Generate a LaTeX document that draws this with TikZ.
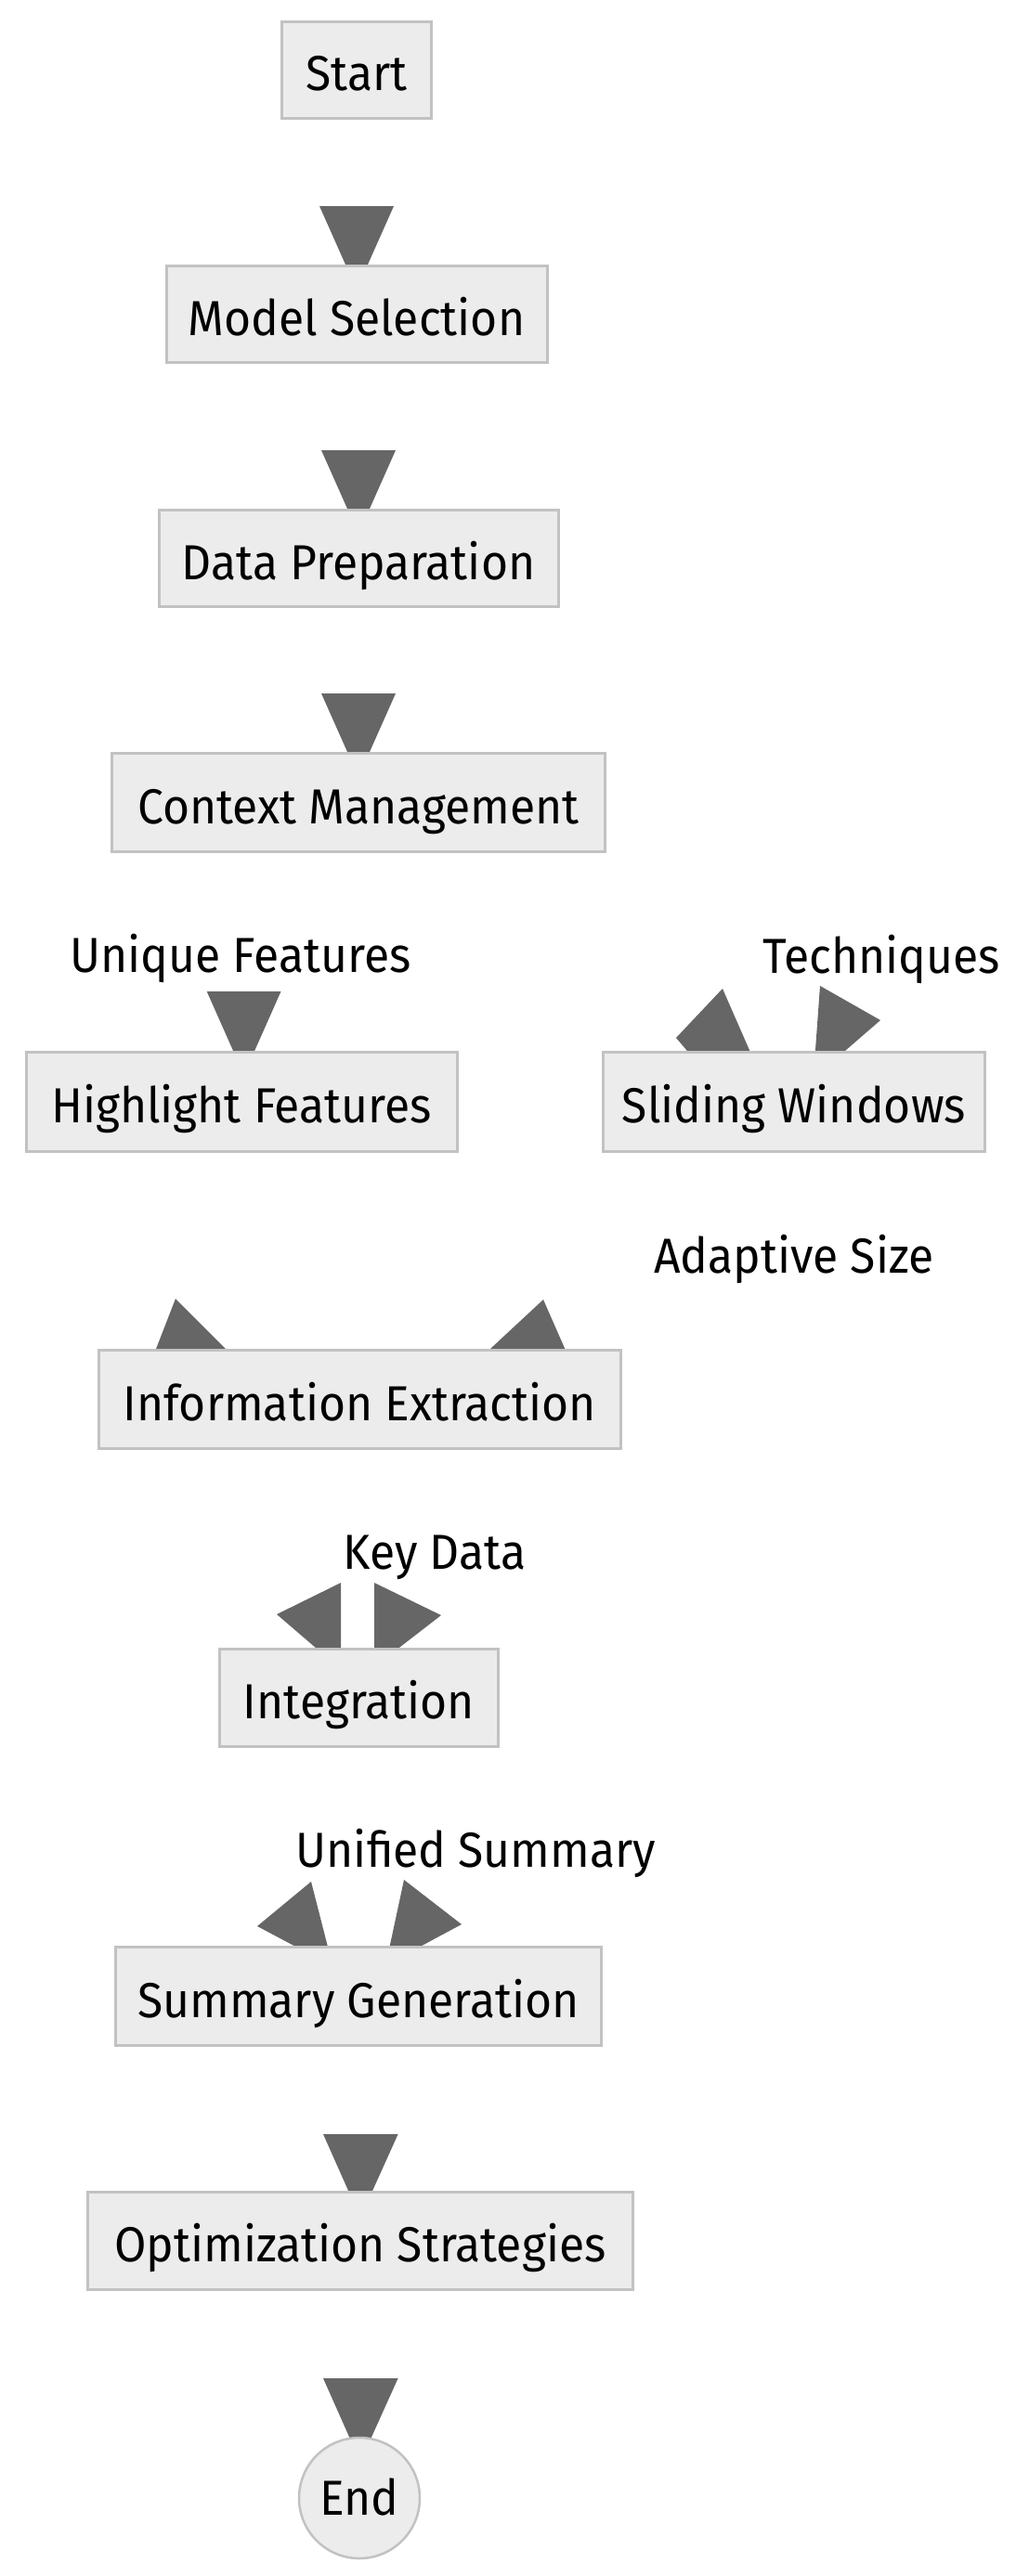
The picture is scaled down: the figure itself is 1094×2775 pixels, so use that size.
\documentclass[tikz,border=0pt]{standalone}
\usepackage{fontspec}
\setmainfont{Fira Sans}[FakeStretch=0.94]
\usetikzlibrary{backgrounds}
\definecolor{boxfill}{HTML}{ECECEC}
\definecolor{boxline}{HTML}{C2C2C2}
\definecolor{headgray}{HTML}{666666}
\definecolor{txt}{HTML}{000000}
\begin{document}
\begin{tikzpicture}[x=1pt,y=-1pt,
  box/.style={draw=boxline, fill=boxfill, line width=3pt, inner sep=0pt,
    text height=56pt, text depth=11pt, text=txt,
    font=\fontsize{53}{60}\selectfont},
  lbl/.style={anchor=base, inner sep=0pt, text=txt, font=\fontsize{53}{60}\selectfont},
  head/.style={fill=headgray}]
\useasboundingbox (0,0) rectangle (1094,2775);

% nodes
\node[box, minimum width=161pt, minimum height=104pt] (start) at (384,75.5) {Start};
\node[box, minimum width=410pt, minimum height=104pt] (ms) at (384,338.5) {Model Selection};
\node[box, minimum width=430pt, minimum height=104pt] (dp) at (386,601.5) {Data Preparation};
\node[box, minimum width=531pt, minimum height=106pt] (cm) at (386,864.5) {Context Management};
\node[box, minimum width=464pt, minimum height=107pt] (hf) at (260,1187) {Highlight Features};
\node[box, minimum width=411pt, minimum height=107pt] (sw) at (855,1187) {Sliding Windows};
\node[box, minimum width=562pt, minimum height=106pt] (ie) at (387.5,1507.5) {Information Extraction};
\node[box, minimum width=300pt, minimum height=105pt] (int) at (386.5,1829) {Integration};
\node[box, minimum width=523pt, minimum height=106pt] (sg) at (386,2150.5) {Summary Generation};
\node[box, minimum width=587pt, minimum height=105pt] (os) at (388,2414) {Optimization Strategies};
\node[circle, draw=boxline, fill=boxfill, line width=2.5pt, inner sep=0pt,
  minimum size=130pt, text height=37pt, text depth=0pt, text=txt,
  font=\fontsize{53}{60}\selectfont] (end) at (387,2691) {End};

% edge labels
\node[lbl] (l1) at (259,1047) {Unique Features};
\node[lbl] (l2) at (949,1048) {Techniques};
\node[lbl] (l3) at (855,1371) {Adaptive Size};
\node[lbl] (l4) at (468,1690) {Key Data};
\node[lbl] (l5) at (512.5,2011) {Unified Summary};

% arrowheads (edges are drawn as heads only), behind the nodes
\begin{pgfonlayer}{background}
\fill[white] (0,0) rectangle (1094,2775);
\fill[head] (344,222) -- (424,222) -- (384,312) -- cycle;
\fill[head] (346,485) -- (426,485) -- (386,575) -- cycle;
\fill[head] (346,747) -- (426,747) -- (386,837) -- cycle;
\fill[head] (222.7,1068) -- (302.5,1068) -- (262.6,1158) -- cycle;
\fill[head] (778,1065) -- (728,1118) -- (751,1145) -- (813,1145) -- cycle;
\fill[head] (883,1062) -- (948,1099) -- (895,1145) -- (877,1145) -- cycle;
\fill[head] (189,1399) -- (163,1466) -- (256,1466) -- cycle;
\fill[head] (585,1400) -- (514,1466) -- (614,1466) -- cycle;
\fill[head] (367,1705) -- (298,1739) -- (355,1788) -- (367,1788) -- cycle;
\fill[head] (403,1705) -- (475,1740) -- (413,1788) -- (403,1788) -- cycle;
\fill[head] (335,2027) -- (277,2075) -- (341,2109) -- (356,2109) -- cycle;
\fill[head] (435,2025) -- (497,2073) -- (430,2109) -- (417,2109) -- cycle;
\fill[head] (348,2299) -- (428.6,2299) -- (388,2389) -- cycle;
\fill[head] (348,2562) -- (428.6,2562) -- (388,2652) -- cycle;
\end{pgfonlayer}
\end{tikzpicture}
\end{document}
